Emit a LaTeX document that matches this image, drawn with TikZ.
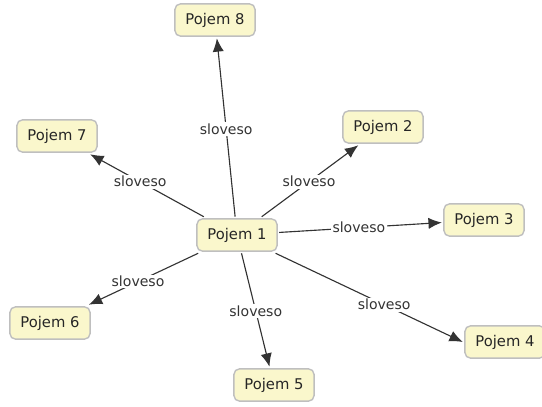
\documentclass[tikz,border=0pt]{standalone}
\usepackage{fontspec}
\setmainfont{DejaVu Sans}
\usepackage{tikz}
\usetikzlibrary{arrows.meta}

\begin{document}
\begin{tikzpicture}[
                    x=0.025cm, y=-0.025cm,
                    pojem/.style = {
                        draw=black!25, fill=conceptfill, rounded corners=4pt, line width=1pt,
                        minimum width=57pt, minimum height=23pt, inner sep=2pt, outer sep=1.5pt,
                        font=\fontsize{10.5}{12}\selectfont, text=black!85
                    },
                    link/.style = {
                        draw=black!80, line width=0.8pt, -{Latex[length=9.5pt,width=8pt]}
                    },
                    verb/.style = {
                        fill=white, inner sep=1pt, font=\fontsize{10}{12}\selectfont, text=black!80
                    }
                ]
                    % Colours
                    \definecolor{conceptfill}{HTML}{FAF7CC}

                    \useasboundingbox (0,0) rectangle (542,407);

                    % Nodes
                    \node[pojem] (P1) at (237,235) {Pojem 1};
                    \node[pojem] (P2) at (383,127) {Pojem 2};
                    \node[pojem] (P3) at (484,220) {Pojem 3};
                    \node[pojem] (P4) at (505,342) {Pojem 4};
                    \node[pojem] (P5) at (274,385) {Pojem 5};
                    \node[pojem] (P6) at (50,323) {Pojem 6};
                    \node[pojem] (P7) at (57,136) {Pojem 7};
                    \node[pojem] (P8) at (215,20) {Pojem 8};

                    % Edges
                    % 1-8
                    \draw[link] (P1) -- node[verb, pos=0.49] {sloveso} (P8);
                    % 1-2
                    \draw[link] (P1) -- node[verb, pos=0.49] {sloveso} (P2);
                    % 1-3
                    \draw[link] (P1) -- node[verb, pos=0.49] {sloveso} (P3);
                    % 1-4 (aims at the left side of Pojem 4)
                    \draw[link] (P1) -- node[verb, pos=0.58] {sloveso} (P4.west);
                    % 1-5
                    \draw[link] (P1) -- node[verb, pos=0.51] {sloveso} (P5);
                    % 1-6
                    \draw[link] (P1) -- node[verb, pos=0.55] {sloveso} (P6);
                    % 1-7
                    \draw[link] (P1) -- node[verb, pos=0.56] {sloveso} (P7);
                \end{tikzpicture}
\end{document}
